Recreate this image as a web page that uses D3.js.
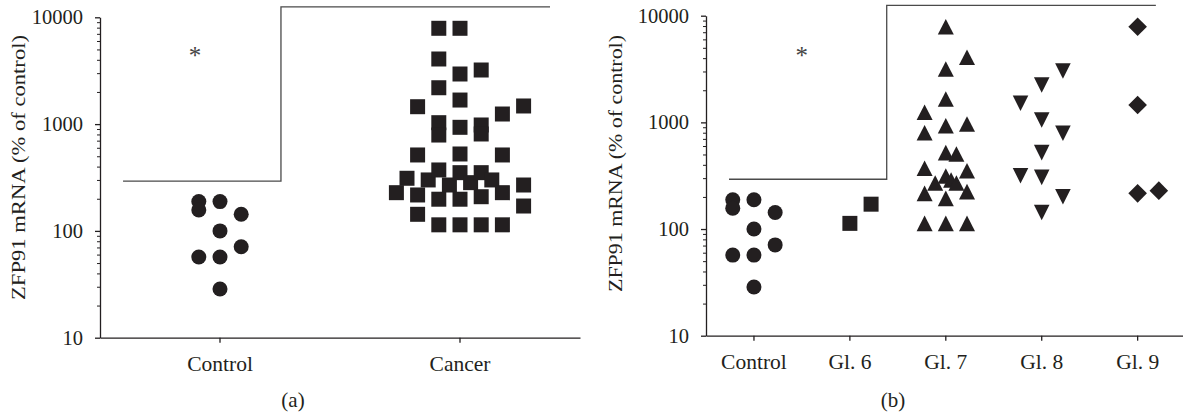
<!DOCTYPE html>
<html>
<head>
<meta charset="utf-8">
<script src="https://cdn.jsdelivr.net/npm/d3@7"></script>
<style>
  body { margin: 0; background: #fff; }
  svg { display: block; font-family: "Liberation Serif", "Times New Roman", serif; }
</style>
</head>
<body>
<div id="chart"></div>
<script>
const WIDTH = 1183;
const HEIGHT = 415;
const INK = "#231f20";

// categorias de cada panel
const panelACategories = ["Control", "Cancer"];
const panelBCategories = ["Control", "Gl. 6", "Gl. 7", "Gl. 8", "Gl. 9"];
const yTickValues = [10, 100, 1000, 10000];
const yMinorTicks = [20, 30, 40, 50, 60, 70, 80, 90, 200, 300, 400, 500, 600, 700, 800, 900,
  2000, 3000, 4000, 5000, 6000, 7000, 8000, 9000];

// valores (% of control) y columna dentro del grupo
const controlValues = [188, 157, 188, 143, 100, 71, 57, 57, 28.6];
const controlSlots = [-1, -1, 0, 1, 0, 1, -1, 0, 0];

const cancerValues = [7890, 7890, 4070, 2945, 3210, 2190, 1680, 1455, 1243, 1478,
  1031, 790, 933, 981, 808, 514, 525, 514, 311, 228, 217, 300, 372, 198, 269,
  351, 198, 283, 351, 209, 300, 228, 269, 171, 143, 114, 114, 114, 114];
const cancerSlots = [-1, 0, -1, 0, 1, -1, 0, -2, 2, 3,
  -1, -1, 0, 1, 1, -2, 0, 2, -2.5, -3, -2, -1.5, -1, -1, -0.5,
  0, 0, 0.5, 1, 1, 1.5, 2, 3, 3, -2, -1, 0, 1, 2];

const gl6Values = [113, 171];
const gl6Slots = [0, 1];

const gl7Values = [7890, 4075, 3162, 1656, 1243, 930, 966, 800, 520, 505, 371, 352,
  270, 314, 288, 270, 216, 194, 224, 113, 113, 113];
const gl7Slots = [0, 1, 0, 0, -1, 0, 1, -1, 0, 0.5, -1, 1,
  -0.5, 0, 0.25, 0.5, -1, 0, 1, -1, 0, 1];

const gl8Values = [3030, 2240, 1510, 1052, 790, 520, 316, 305, 201, 143];
const gl8Slots = [1, 0, -1, 0, 1, 0, -1, 0, 1, 0];

const gl9Values = [7890, 1455, 216, 229];
const gl9Slots = [0, 0, 0, 1];

// linea de significancia
const bracketLow = 293;
const bracketHigh = 12500;

const svg = d3.select("#chart")
  .append("svg")
  .attr("width", WIDTH)
  .attr("height", HEIGHT);

const slotScale = d3.scaleLinear().domain([0, 1]).range([0, 21.2]);

const shapes = {
  circle: "M7.5,0A7.5,7.5,0,1,1,-7.5,0A7.5,7.5,0,1,1,7.5,0Z",
  square: "M-7.5,-7.5H7.5V7.5H-7.5Z",
  up: "M0,-7.8L8,7.8L-8,7.8Z",
  down: "M0,7.8L7.8,-7.8L-7.8,-7.8Z",
  diamond: "M0,-9.3L9.3,0L0,9.3L-9.3,0Z"
};

function drawPanel(p) {
  const g = svg.append("g");

  const y = d3.scaleLog().domain([10, 10000]).range([p.bottom, p.top]);
  const x = d3.scaleBand().domain(p.categories).range([p.left, p.right]);
  const xu = u => p.left + u * x.step();

  // ticks menores
  g.append("g")
    .attr("transform", `translate(${p.left},0)`)
    .attr("color", INK)
    .call(d3.axisLeft(y).tickValues(yMinorTicks).tickSize(3).tickFormat(""))
    .call(a => a.select(".domain").remove())
    .call(a => a.selectAll("line").attr("stroke-width", 1));

  // eje y
  g.append("g")
    .attr("transform", `translate(${p.left},0)`)
    .attr("color", INK)
    .call(d3.axisLeft(y).tickValues(yTickValues).tickSize(5).tickSizeOuter(0)
      .tickPadding(12).tickFormat(d3.format("d")))
    .call(a => a.attr("font-family", null).attr("font-size", 20.5))
    .call(a => a.selectAll("path, line").attr("stroke-width", 1.3));

  // eje x
  g.append("g")
    .attr("transform", `translate(0,${p.bottom})`)
    .attr("color", INK)
    .call(d3.axisBottom(x).tickSize(5).tickSizeOuter(0).tickPadding(13))
    .call(a => a.attr("font-family", null).attr("font-size", 21.5))
    .call(a => a.selectAll("path, line").attr("stroke-width", 1.3));

  // puntos
  p.groups.forEach(grp => {
    g.append("g")
      .selectAll("path")
      .data(d3.zip(grp.values, grp.slots))
      .join("path")
      .attr("d", shapes[grp.shape])
      .attr("fill", INK)
      .attr("transform", d =>
        `translate(${x(grp.category) + x.bandwidth() / 2 + slotScale(d[1])},${y(d[0])})`);
  });

  // corchete
  g.append("path")
    .attr("fill", "none")
    .attr("stroke", "#4a4a4a")
    .attr("stroke-width", 1.3)
    .attr("d", d3.line()([
      [xu(p.bracket[0]), y(bracketLow)],
      [xu(p.bracket[1]), y(bracketLow)],
      [xu(p.bracket[1]), y(bracketHigh)],
      [xu(p.bracket[2]), y(bracketHigh)]
    ]));

  g.append("text")
    .attr("x", xu(p.star[0]))
    .attr("y", y(p.star[1]) + 14)
    .attr("text-anchor", "middle")
    .attr("font-size", 25)
    .attr("fill", "#444")
    .text("*");

  // titulo eje y
  g.append("text")
    .attr("transform", `translate(${p.titleX},${p.titleY}) rotate(-90)`)
    .attr("text-anchor", "middle")
    .attr("font-size", 19)
    .attr("textLength", p.titleLength)
    .attr("lengthAdjust", "spacingAndGlyphs")
    .attr("fill", INK)
    .text("ZFP91 mRNA (% of control)");

  g.append("text")
    .attr("x", p.labelX)
    .attr("y", 407)
    .attr("text-anchor", "middle")
    .attr("font-size", 21)
    .attr("fill", INK)
    .text(p.label);
}

drawPanel({
  left: 100, right: 580, top: 17.3, bottom: 337.7,
  categories: panelACategories,
  groups: [
    { category: "Control", values: controlValues, slots: controlSlots, shape: "circle" },
    { category: "Cancer", values: cancerValues, slots: cancerSlots, shape: "square" }
  ],
  bracket: [0.096, 0.754, 1.875],
  star: [0.396, 4900],
  titleX: 25, titleY: 167.5, titleLength: 265,
  label: "(a)", labelX: 293
});

drawPanel({
  left: 706, right: 1185.6, top: 15.7, bottom: 335.7,
  categories: panelBCategories,
  groups: [
    { category: "Control", values: controlValues, slots: controlSlots, shape: "circle" },
    { category: "Gl. 6", values: gl6Values, slots: gl6Slots, shape: "square" },
    { category: "Gl. 7", values: gl7Values, slots: gl7Slots, shape: "up" },
    { category: "Gl. 8", values: gl8Values, slots: gl8Slots, shape: "down" },
    { category: "Gl. 9", values: gl9Values, slots: gl9Slots, shape: "diamond" }
  ],
  bracket: [0.24, 1.884, 4.69],
  star: [0.998, 4800],
  titleX: 622, titleY: 163.5, titleLength: 257,
  label: "(b)", labelX: 893
});
</script>
</body>
</html>
